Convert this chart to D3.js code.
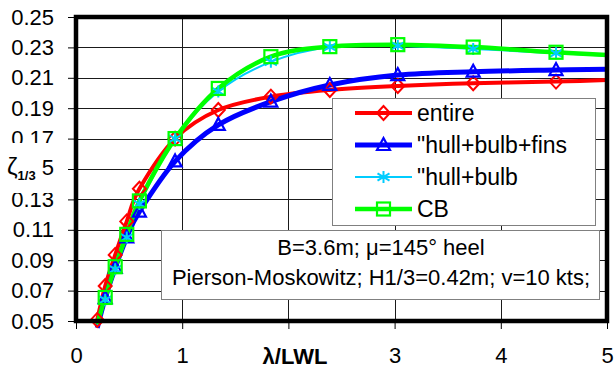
<!DOCTYPE html>
<html lang="en">
<head>
  <meta charset="UTF-8">
  <title>zeta 1/3 vs lambda/LWL</title>
  <style>
    body { margin: 0; background: #fff; }
    svg { display: block; font-family: Arial, "Liberation Sans", sans-serif; }
  </style>
</head>
<body>
  <div id="chart"></div>

  <script src="https://d3js.org/d3.v7.min.js"></script>
  <script>
    // wave length ratio where the points were computed (last one only carries the line to the edge)
    const lambda = [0.2, 0.275, 0.369, 0.478, 0.597, 0.933, 1.34, 1.835, 2.39, 3.03, 3.74, 4.52, 5.0];

    const entire     = [0.0507, 0.073, 0.0935, 0.1155, 0.137, 0.170, 0.1888, 0.1976, 0.202, 0.2046, 0.2064, 0.2075, 0.2086];
    const hullBulbFins = [0.0455, 0.065, 0.085, 0.105, 0.122, 0.155, 0.179, 0.1943, 0.2053, 0.2118, 0.214, 0.2151, 0.2156];
    const hullBulb   = [0.047, 0.064, 0.084, 0.105, 0.127, 0.170, 0.201, 0.2205, 0.2303, 0.231, 0.229, 0.2262, 0.2245];
    const cb         = [0.048, 0.0655, 0.0857, 0.107, 0.129, 0.170, 0.203, 0.2239, 0.2305, 0.2318, 0.2302, 0.2268, 0.225];

    const seriesNames = ["entire", "\"hull+bulb+fins", "\"hull+bulb", "CB"];
    const yTicks = [0.05, 0.07, 0.09, 0.11, 0.13, 0.15, 0.17, 0.19, 0.21, 0.23, 0.25];
    const xTicks = [0, 1, 2, 3, 4, 5];
    const noteLines = ["B=3.6m; \u03bc=145\u00b0 heel", "Pierson-Moskowitz; H1/3=0.42m; v=10 kts;"];

    const W = 614, H = 372;
    const plot = { left: 76, right: 607, top: 17, bottom: 321 };

    const svg = d3.select("#chart").append("svg")
      .attr("width", W).attr("height", H);

    const x = d3.scaleLinear().domain([0, 5]).range([plot.left, plot.right]);
    const y = d3.scaleLinear().domain([0.05, 0.25]).range([plot.bottom, plot.top]);

    // grid
    svg.append("g").selectAll("line")
      .data(yTicks.slice(1, -1)).enter().append("line")
      .attr("x1", plot.left).attr("x2", plot.right)
      .attr("y1", d => Math.round(y(d)) + 0.5).attr("y2", d => Math.round(y(d)) + 0.5)
      .attr("stroke", "#1a1a1a").attr("stroke-width", 1);
    svg.append("g").selectAll("line")
      .data(xTicks.slice(1, -1)).enter().append("line")
      .attr("y1", plot.top).attr("y2", plot.bottom)
      .attr("x1", d => Math.round(x(d)) + 0.5).attr("x2", d => Math.round(x(d)) + 0.5)
      .attr("stroke", "#1a1a1a").attr("stroke-width", 1);

    // axes (0.15 label and the "2" are covered by the axis titles in the original)
    const yAxis = d3.axisLeft(y).tickValues(yTicks)
      .tickFormat(d => Math.abs(d - 0.15) < 1e-9 ? "" : d3.format(".2f")(d))
      .tickSize(8).tickPadding(14);
    const gy = svg.append("g").attr("transform", `translate(${plot.left},0)`).call(yAxis);
    gy.select(".domain").remove();
    gy.selectAll("text").style("font-size", "22px").attr("fill", "#000");

    const xAxis = d3.axisBottom(x).tickValues(xTicks).tickFormat(d => d === 2 ? "" : d)
      .tickSize(8).tickPadding(18);
    const gx = svg.append("g").attr("transform", `translate(0,${plot.bottom})`).call(xAxis);
    gx.select(".domain").remove();
    gx.selectAll("text").style("font-size", "22px").attr("fill", "#000");

    // lines
    const data = [entire, hullBulbFins, hullBulb, cb];
    const colors = ["#ff0000", "#0000ff", "#00ccff", "#00ff00"];
    const widths = [4, 5, 2, 4.5];

    const line = d3.line()
      .x((d, i) => x(lambda[i]))
      .y(d => y(d))
      .curve(d3.curveCardinal.tension(0));

    data.forEach((s, k) => {
      svg.append("path")
        .attr("d", line(s))
        .attr("fill", "none")
        .attr("stroke", colors[k])
        .attr("stroke-width", widths[k])
        .attr("stroke-linejoin", "round");
    });

    // markers
    function marker(g, k, cx, cy) {
      const c = colors[k];
      if (k === 0) {
        g.append("path").attr("d", `M${cx},${cy - 7}L${cx + 6.5},${cy}L${cx},${cy + 7}L${cx - 6.5},${cy}Z`)
          .attr("fill", "none").attr("stroke", c).attr("stroke-width", 2);
      } else if (k === 1) {
        g.append("path").attr("d", `M${cx},${cy - 7}L${cx + 6.5},${cy + 5}L${cx - 6.5},${cy + 5}Z`)
          .attr("fill", "none").attr("stroke", c).attr("stroke-width", 2.2);
      } else if (k === 2) {
        const r = 6;
        g.append("path")
          .attr("d", `M${cx},${cy - r}V${cy + r}M${cx - r},${cy - r * 0.6}L${cx + r},${cy + r * 0.6}M${cx - r},${cy + r * 0.6}L${cx + r},${cy - r * 0.6}`)
          .attr("stroke", c).attr("stroke-width", 2);
      } else {
        g.append("rect").attr("x", cx - 6.5).attr("y", cy - 6.5).attr("width", 13).attr("height", 13)
          .attr("fill", "none").attr("stroke", c).attr("stroke-width", 2.2);
      }
    }

    const gm = svg.append("g");
    data.forEach((s, k) => {
      s.forEach((v, i) => {
        if (i === lambda.length - 1 || v < 0.05) return;
        marker(gm, k, x(lambda[i]), y(v));
      });
    });

    // plot frame
    svg.append("rect")
      .attr("x", plot.left).attr("y", plot.top)
      .attr("width", plot.right - plot.left).attr("height", plot.bottom - plot.top)
      .attr("fill", "none").attr("stroke", "#000").attr("stroke-width", 4.5);

    // axis titles
    svg.append("text").attr("x", 295).attr("y", 364)
      .attr("text-anchor", "middle").style("font-size", "22px").style("font-weight", "bold")
      .text("\u03bb/LWL");

    svg.append("rect").attr("x", 0).attr("y", 143).attr("width", 58).attr("height", 50).attr("fill", "#fff");
    const yl = svg.append("text").attr("x", 7).attr("y", 175).style("font-size", "24px");
    yl.append("tspan").text("\u03b6");
    yl.append("tspan").attr("dy", 5).style("font-size", "13px").style("font-weight", "bold").text("1/3");
    svg.append("text").attr("x", 54).attr("y", 175).attr("text-anchor", "end")
      .style("font-size", "22px").text("5");

    // legend
    const leg = svg.append("g");
    leg.append("rect").attr("x", 332.5).attr("y", 98.5).attr("width", 263).attr("height", 127)
      .attr("fill", "#fff").attr("stroke", "#808080").attr("stroke-width", 1);
    seriesNames.forEach((name, k) => {
      const ly = 113 + k * 32;
      leg.append("line").attr("x1", 355).attr("x2", 412).attr("y1", ly).attr("y2", ly)
        .attr("stroke", colors[k]).attr("stroke-width", widths[k]);
      marker(leg, k, 383.5, ly);
      leg.append("text").attr("x", 417).attr("y", ly + 8).style("font-size", "23px").text(name);
    });

    // note box
    const note = svg.append("g");
    note.append("rect").attr("x", 161.5).attr("y", 230.5).attr("width", 438).attr("height", 69)
      .attr("fill", "#fff").attr("stroke", "#808080").attr("stroke-width", 1);
    noteLines.forEach((t, i) => {
      note.append("text").attr("x", 381).attr("y", 255 + i * 30)
        .attr("text-anchor", "middle").style("font-size", "22px").text(t);
    });
  </script>
</body>
</html>
